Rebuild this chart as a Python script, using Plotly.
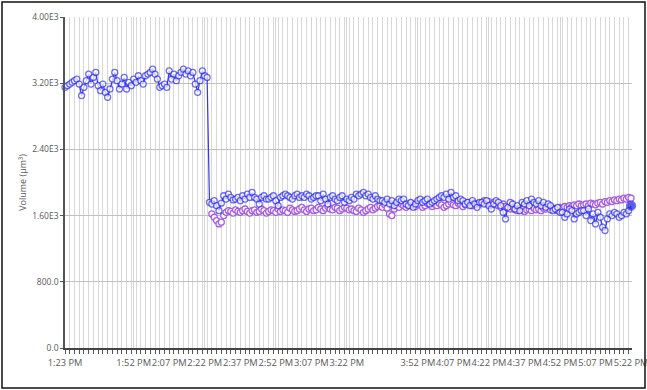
import pandas as pd
import plotly.graph_objects as go

START = "2024-01-01 13:23:00"

# Series A (blue): one sample per minute from 1:23 PM (minute 0..239)
blue_vol = [
    3150, 3170, 3190, 3210, 3230, 3250, 3190, 3050, 3150, 3230,
    3310, 3190, 3270, 3330, 3170, 3110, 3190, 3090, 3030, 3130,
    3250, 3330, 3230, 3130, 3190, 3270, 3130, 3210, 3170, 3250,
    3210, 3290, 3230, 3190, 3290, 3310, 3330, 3370, 3310, 3250,
    3150, 3170, 3190, 3150, 3350, 3250, 3310, 3230, 3290, 3330,
    3370, 3310, 3350, 3290, 3330, 3190, 3090, 3230, 3350, 3290,
    3270,
    1760, 1740, 1780, 1720, 1660, 1750, 1840, 1800, 1860, 1820, 1790,
    1800, 1820, 1780, 1840, 1800, 1860, 1820,
    1880, 1820, 1800, 1740, 1820, 1840, 1800,
    1800, 1820, 1840, 1780, 1720, 1820, 1840,
    1860, 1840, 1820, 1800, 1840, 1860, 1820,
    1840, 1820, 1860, 1840, 1800, 1820, 1840,
    1840, 1780, 1860, 1800, 1740, 1820, 1840,
    1800, 1780, 1820, 1840, 1760, 1800, 1780,
    1820, 1800, 1860, 1840,
    1860, 1880, 1840, 1860, 1820, 1800, 1840, 1800, 1780,
    1780, 1760, 1800, 1740, 1780, 1720, 1760, 1800,
    1780, 1800, 1740, 1720, 1760, 1700, 1740, 1780, 1800,
    1760, 1780, 1800, 1740, 1760, 1780, 1800, 1820,
    1840, 1820, 1860, 1800, 1880, 1820, 1840, 1780, 1800,
    1780, 1740, 1760, 1720, 1780, 1740, 1700, 1760,
    1760, 1740, 1780, 1720, 1680, 1740, 1780, 1760, 1720,
    1640, 1560, 1700, 1760, 1740, 1680, 1720, 1660,
    1760, 1740, 1780, 1720, 1800, 1760, 1740, 1780, 1720,
    1760, 1700, 1740, 1720, 1660, 1680, 1700, 1640,
    1640, 1580, 1620, 1680, 1660, 1560, 1620, 1640, 1660,
    1660, 1600, 1680, 1540, 1620, 1500, 1640, 1580,
    1460, 1420, 1560, 1620, 1600, 1640,
    1620, 1580, 1600, 1640, 1620, 1660, 1720,
]
blue_start_min = 0

# Series B (purple): one sample per minute from 2:25 PM (minute 62..239)
purple_vol = [
    1620, 1580, 1540, 1500, 1520, 1600,
    1640, 1660, 1650, 1630, 1670, 1650, 1640, 1660, 1680, 1650,
    1630, 1660, 1670, 1640, 1650, 1680, 1660, 1630, 1650, 1670,
    1660, 1640, 1680, 1650, 1670, 1660, 1640, 1690, 1670, 1650,
    1660, 1680, 1700, 1670, 1650, 1680, 1690, 1660, 1670, 1700,
    1680, 1660, 1690, 1710, 1680, 1670, 1700, 1690, 1660, 1680,
    1700, 1690, 1670,
    1680, 1660, 1650, 1690, 1670, 1640, 1660, 1680, 1700, 1670,
    1690, 1710, 1720, 1700, 1730, 1690, 1620, 1600, 1680, 1720,
    1700, 1740, 1720, 1700, 1730, 1750, 1720, 1710, 1740, 1730,
    1700, 1720, 1750, 1730, 1710, 1740, 1720, 1750, 1730, 1700,
    1720, 1740, 1760, 1730, 1720, 1750, 1740, 1710, 1730, 1760,
    1740, 1720, 1750, 1730, 1740,
    1760, 1780, 1750, 1770, 1740, 1760, 1730, 1720, 1700, 1740,
    1710, 1690, 1680, 1700, 1670, 1660, 1690, 1680, 1650, 1670,
    1680, 1660, 1690, 1670, 1680, 1660, 1690, 1680, 1700, 1670,
    1690, 1680, 1660, 1700, 1690, 1710, 1700, 1720, 1710, 1730,
    1720, 1740, 1720, 1730, 1740, 1720, 1750, 1740, 1730, 1750,
    1760, 1740, 1770, 1760, 1780, 1770, 1790, 1780, 1800, 1790,
    1810, 1800, 1820, 1810,
]
purple_start_min = 62

# Axis ticks
x_tick_times = ["13:23", "13:52", "14:07", "14:22", "14:37", "14:52", "15:07", "15:22",
                "15:52", "16:07", "16:22", "16:37", "16:52", "17:07", "17:22"]
x_tick_labels = ["1:23 PM", "1:52 PM", "2:07 PM", "2:22 PM", "2:37 PM", "2:52 PM", "3:07 PM",
                 "3:22 PM", "3:52 PM", "4:07 PM", "4:22 PM", "4:37 PM", "4:52 PM", "5:07 PM",
                 "5:22 PM"]
y_tick_vals = [0, 800, 1600, 2400, 3200, 4000]
y_tick_labels = ["0.0", "800.0", "1.60E3", "2.40E3", "3.20E3", "4.00E3"]

t0 = pd.Timestamp(START)
blue_t = pd.date_range(t0 + pd.Timedelta(minutes=blue_start_min), periods=len(blue_vol), freq="1min")
purple_t = pd.date_range(t0 + pd.Timedelta(minutes=purple_start_min), periods=len(purple_vol), freq="1min")

BLUE = "#3636f0"
PURPLE = "#a65fe0"
FONT = "Open Sans"
GRAY = "#595959"

W, H = 647, 390
ML, MR, MT, MB = 65, 15, 17, 42
PW, PH = W - ML - MR, H - MT - MB

fig = go.Figure()
fig.add_trace(go.Scatter(
    x=purple_t, y=purple_vol, mode="lines+markers",
    line=dict(color=PURPLE, width=1),
    marker=dict(symbol="circle", size=6, color="white", line=dict(color=PURPLE, width=1.3)),
    cliponaxis=False, showlegend=False,
))
n = len(blue_vol)
fig.add_trace(go.Scatter(
    x=blue_t, y=blue_vol, mode="lines+markers",
    line=dict(color=BLUE, width=1.2),
    marker=dict(symbol="circle",
                size=[6] * (n - 1) + [9],
                color=["white"] * (n - 1) + ["#1a1ae6"],
                line=dict(color=BLUE, width=1.3)),
    cliponaxis=False, showlegend=False,
))

x_ticks = [pd.Timestamp("2024-01-01 " + t) for t in x_tick_times]

fig.update_layout(
    width=W, height=H,
    margin=dict(l=ML, r=MR, t=MT, b=MB, pad=0, autoexpand=False),
    paper_bgcolor="white", plot_bgcolor="white",
    font=dict(family=FONT, size=8.5, color=GRAY),
    xaxis=dict(
        type="date", automargin=False,
        range=[t0, t0 + pd.Timedelta(minutes=239.4)],
        tickmode="array", tickvals=x_ticks, ticktext=x_tick_labels,
        tickangle=0, tickfont=dict(size=9.3), ticklabelstandoff=5,
        ticklabeloverflow="allow",
        showgrid=True, gridcolor="#d4d4d4", gridwidth=1,
        ticks="", showline=True, linecolor="#444444", linewidth=1.5,
        minor=dict(dtick=120000, tick0=t0, showgrid=True, gridcolor="#d8d8d8",
                   ticks="outside", ticklen=4, tickcolor="#555555"),
        zeroline=False,
    ),
    yaxis=dict(
        automargin=False,
        range=[0, 4000],
        tickmode="array", tickvals=y_tick_vals, ticktext=y_tick_labels,
        showgrid=True, gridcolor="#c0c0c0", gridwidth=1,
        ticks="outside", ticklen=3, tickcolor="#555555",
        showline=True, linecolor="#555555", linewidth=1.5,
        zeroline=False,
        title=dict(text="Volume (μm³)", standoff=4, font=dict(size=9, color=GRAY)),
    ),
    shapes=[dict(
        type="rect", xref="paper", yref="paper",
        x0=(2 - ML) / PW, x1=(645 - ML) / PW,
        y0=(MT + PH - 388) / PH, y1=(MT + PH - 2) / PH,
        line=dict(color="#111111", width=1.5), fillcolor="rgba(0,0,0,0)", layer="above",
    )],
)

fig.write_html("out.html", config={"displayModeBar": False},
               post_script="document.body.style.margin='0';")
